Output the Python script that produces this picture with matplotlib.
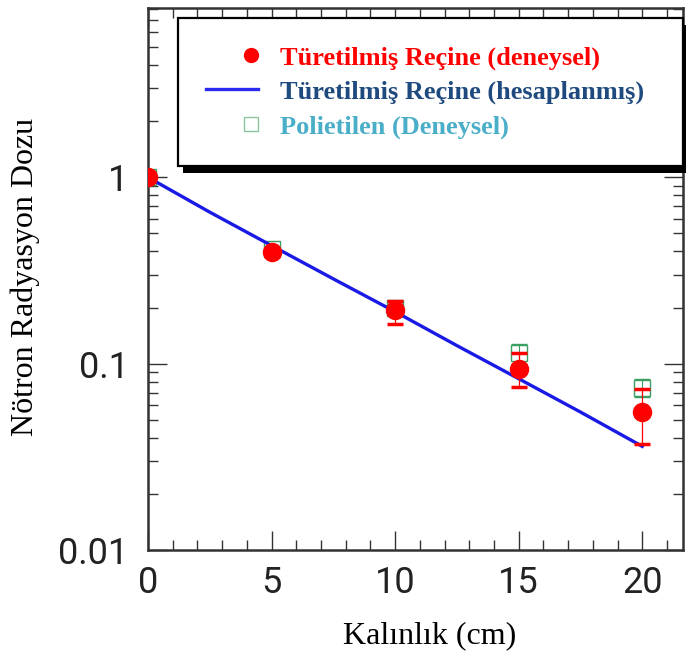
import matplotlib
matplotlib.use("Agg")
import matplotlib.pyplot as plt
from matplotlib.lines import Line2D
from matplotlib.patches import Rectangle
from matplotlib.legend_handler import HandlerLine2D
from matplotlib.ticker import FixedLocator, FixedFormatter, MultipleLocator, LogLocator, NullFormatter

thickness = [0, 5, 10, 15, 20]
resin_exp = [1.0, 0.395, 0.195, 0.094, 0.055]
resin_lo = [1.0, 0.38, 0.164, 0.075, 0.037]
resin_hi = [1.0, 0.41, 0.218, 0.114, 0.073]

pe_exp = [1.0, 0.41, 0.20, 0.114, 0.074]
pe_lo = [1.0, 0.40, 0.19, 0.10, 0.066]
pe_hi = [1.0, 0.42, 0.215, 0.127, 0.083]

# calculated curve
calc_x = [0, 2.5, 5, 7.5, 10, 12.5, 15, 17.5, 20]
calc_y = [1.0, 0.65, 0.43, 0.285, 0.19, 0.125, 0.083, 0.055, 0.036]

ytick_vals = [0.01, 0.1, 1]
ytick_labels = ["0.01", "0.1", "1"]
xtick_vals = [0, 5, 10, 15, 20]

legend_labels = ["Türetilmiş Reçine (deneysel)",
                 "Türetilmiş Reçine (hesaplanmış)",
                 "Polietilen (Deneysel)"]
legend_colors = ["#ff0000", "#1f4a7f", "#4aaec8"]


class RightMarker(HandlerLine2D):
    # single marker sitting near the right end of the handle
    def get_xdata(self, legend, xdescent, ydescent, width, height, fontsize):
        m = -xdescent + width - 0.3 * fontsize
        return [m, m], [m]


W, H = 686, 659
fig = plt.figure(figsize=(W / 100, H / 100), dpi=100)
ax = fig.add_axes([148 / W, 1 - 550 / H, (683 - 148) / W, (550 - 8) / H])

green = "#3d9e62"
pe_err = [[c - l for c, l in zip(pe_exp, pe_lo)], [h - c for c, h in zip(pe_exp, pe_hi)]]
ax.errorbar(thickness, pe_exp, yerr=pe_err, fmt="s", mfc="none", mec=green, mew=1.0,
            ms=11, ecolor=green, elinewidth=0.8, capsize=6, capthick=1.0, zorder=3)

ax.plot(calc_x, calc_y, color="#1a1ae6", lw=2.4, zorder=4)

red_err = [[c - l for c, l in zip(resin_exp, resin_lo)], [h - c for c, h in zip(resin_exp, resin_hi)]]
ax.errorbar(thickness, resin_exp, yerr=red_err, fmt="o", color="#ff0000", ms=13,
            ecolor="#ff0000", elinewidth=0.9, capsize=6, capthick=2.5, zorder=5)

ax.set_yscale("log")
ax.set_ylim(0.01, 8.1)
ax.set_xlim(0, 21.65)

ax.yaxis.set_major_locator(FixedLocator(ytick_vals))
ax.yaxis.set_major_formatter(FixedFormatter(ytick_labels))
ax.yaxis.set_minor_locator(LogLocator(base=10, subs=range(2, 10)))
ax.yaxis.set_minor_formatter(NullFormatter())
ax.xaxis.set_major_locator(FixedLocator(xtick_vals))
ax.xaxis.set_minor_locator(MultipleLocator(1))

ax.tick_params(which="both", direction="in", top=True, right=True, color="#333333", width=1.0)
ax.tick_params(which="major", length=14)
ax.tick_params(which="minor", length=7)
ax.tick_params(axis="y", which="major", pad=14, labelsize=26)
ax.tick_params(axis="x", which="major", pad=11, labelsize=26)
for lab in ax.get_xticklabels() + ax.get_yticklabels():
    lab.set_family("Roboto")
    lab.set_color("#222222")
for sp in ax.spines.values():
    sp.set_linewidth(1.8)
    sp.set_color("#333333")

ax.set_xlabel("Kalınlık (cm)", family="Liberation Serif", fontsize=23, va="center")
ax.xaxis.set_label_coords((430 - 148) / 535, (550 - 636) / 542)
ax.set_ylabel("Nötron Radyasyon Dozu", family="Liberation Serif", fontsize=23, va="center")
ax.yaxis.set_label_coords((25 - 148) / 535, (550 - 277) / 542)

# legend with a solid black drop shadow
handles = [
    Line2D([], [], marker="o", ls="none", color="#ff0000", ms=10),
    Line2D([], [], color="#2a2af0", lw=2.4),
    Line2D([], [], marker="s", ls="none", mfc="none", mec="#8cc4a0", mew=1.0, ms=10),
]
lx0, ltop, lx1 = 178, 18, 683
leg = fig.legend(handles, legend_labels, loc="upper left",
                 bbox_to_anchor=(lx0 / W, 1 - ltop / H, (lx1 - lx0) / W, 0),
                 bbox_transform=fig.transFigure, mode="expand", borderaxespad=0,
                 handler_map={handles[0]: RightMarker(), handles[2]: RightMarker()},
                 handlelength=2.0, handletextpad=0.8, labelspacing=0.4,
                 borderpad=1.05, fancybox=False, framealpha=1, edgecolor="black",
                 prop={"family": "Liberation Serif", "weight": "bold", "size": 19})
leg.get_frame().set_linewidth(1.6)
leg.set_zorder(5)
for txt, col in zip(leg.get_texts(), legend_colors):
    txt.set_color(col)

fig.canvas.draw()
bb = leg.get_window_extent()
fig.patches.append(Rectangle(((bb.x0 + 5) / W, (bb.y0 - 7) / H), bb.width / W, bb.height / H,
                             transform=fig.transFigure, facecolor="black", edgecolor="none", zorder=4))

fig.savefig("out.png", dpi=100)
